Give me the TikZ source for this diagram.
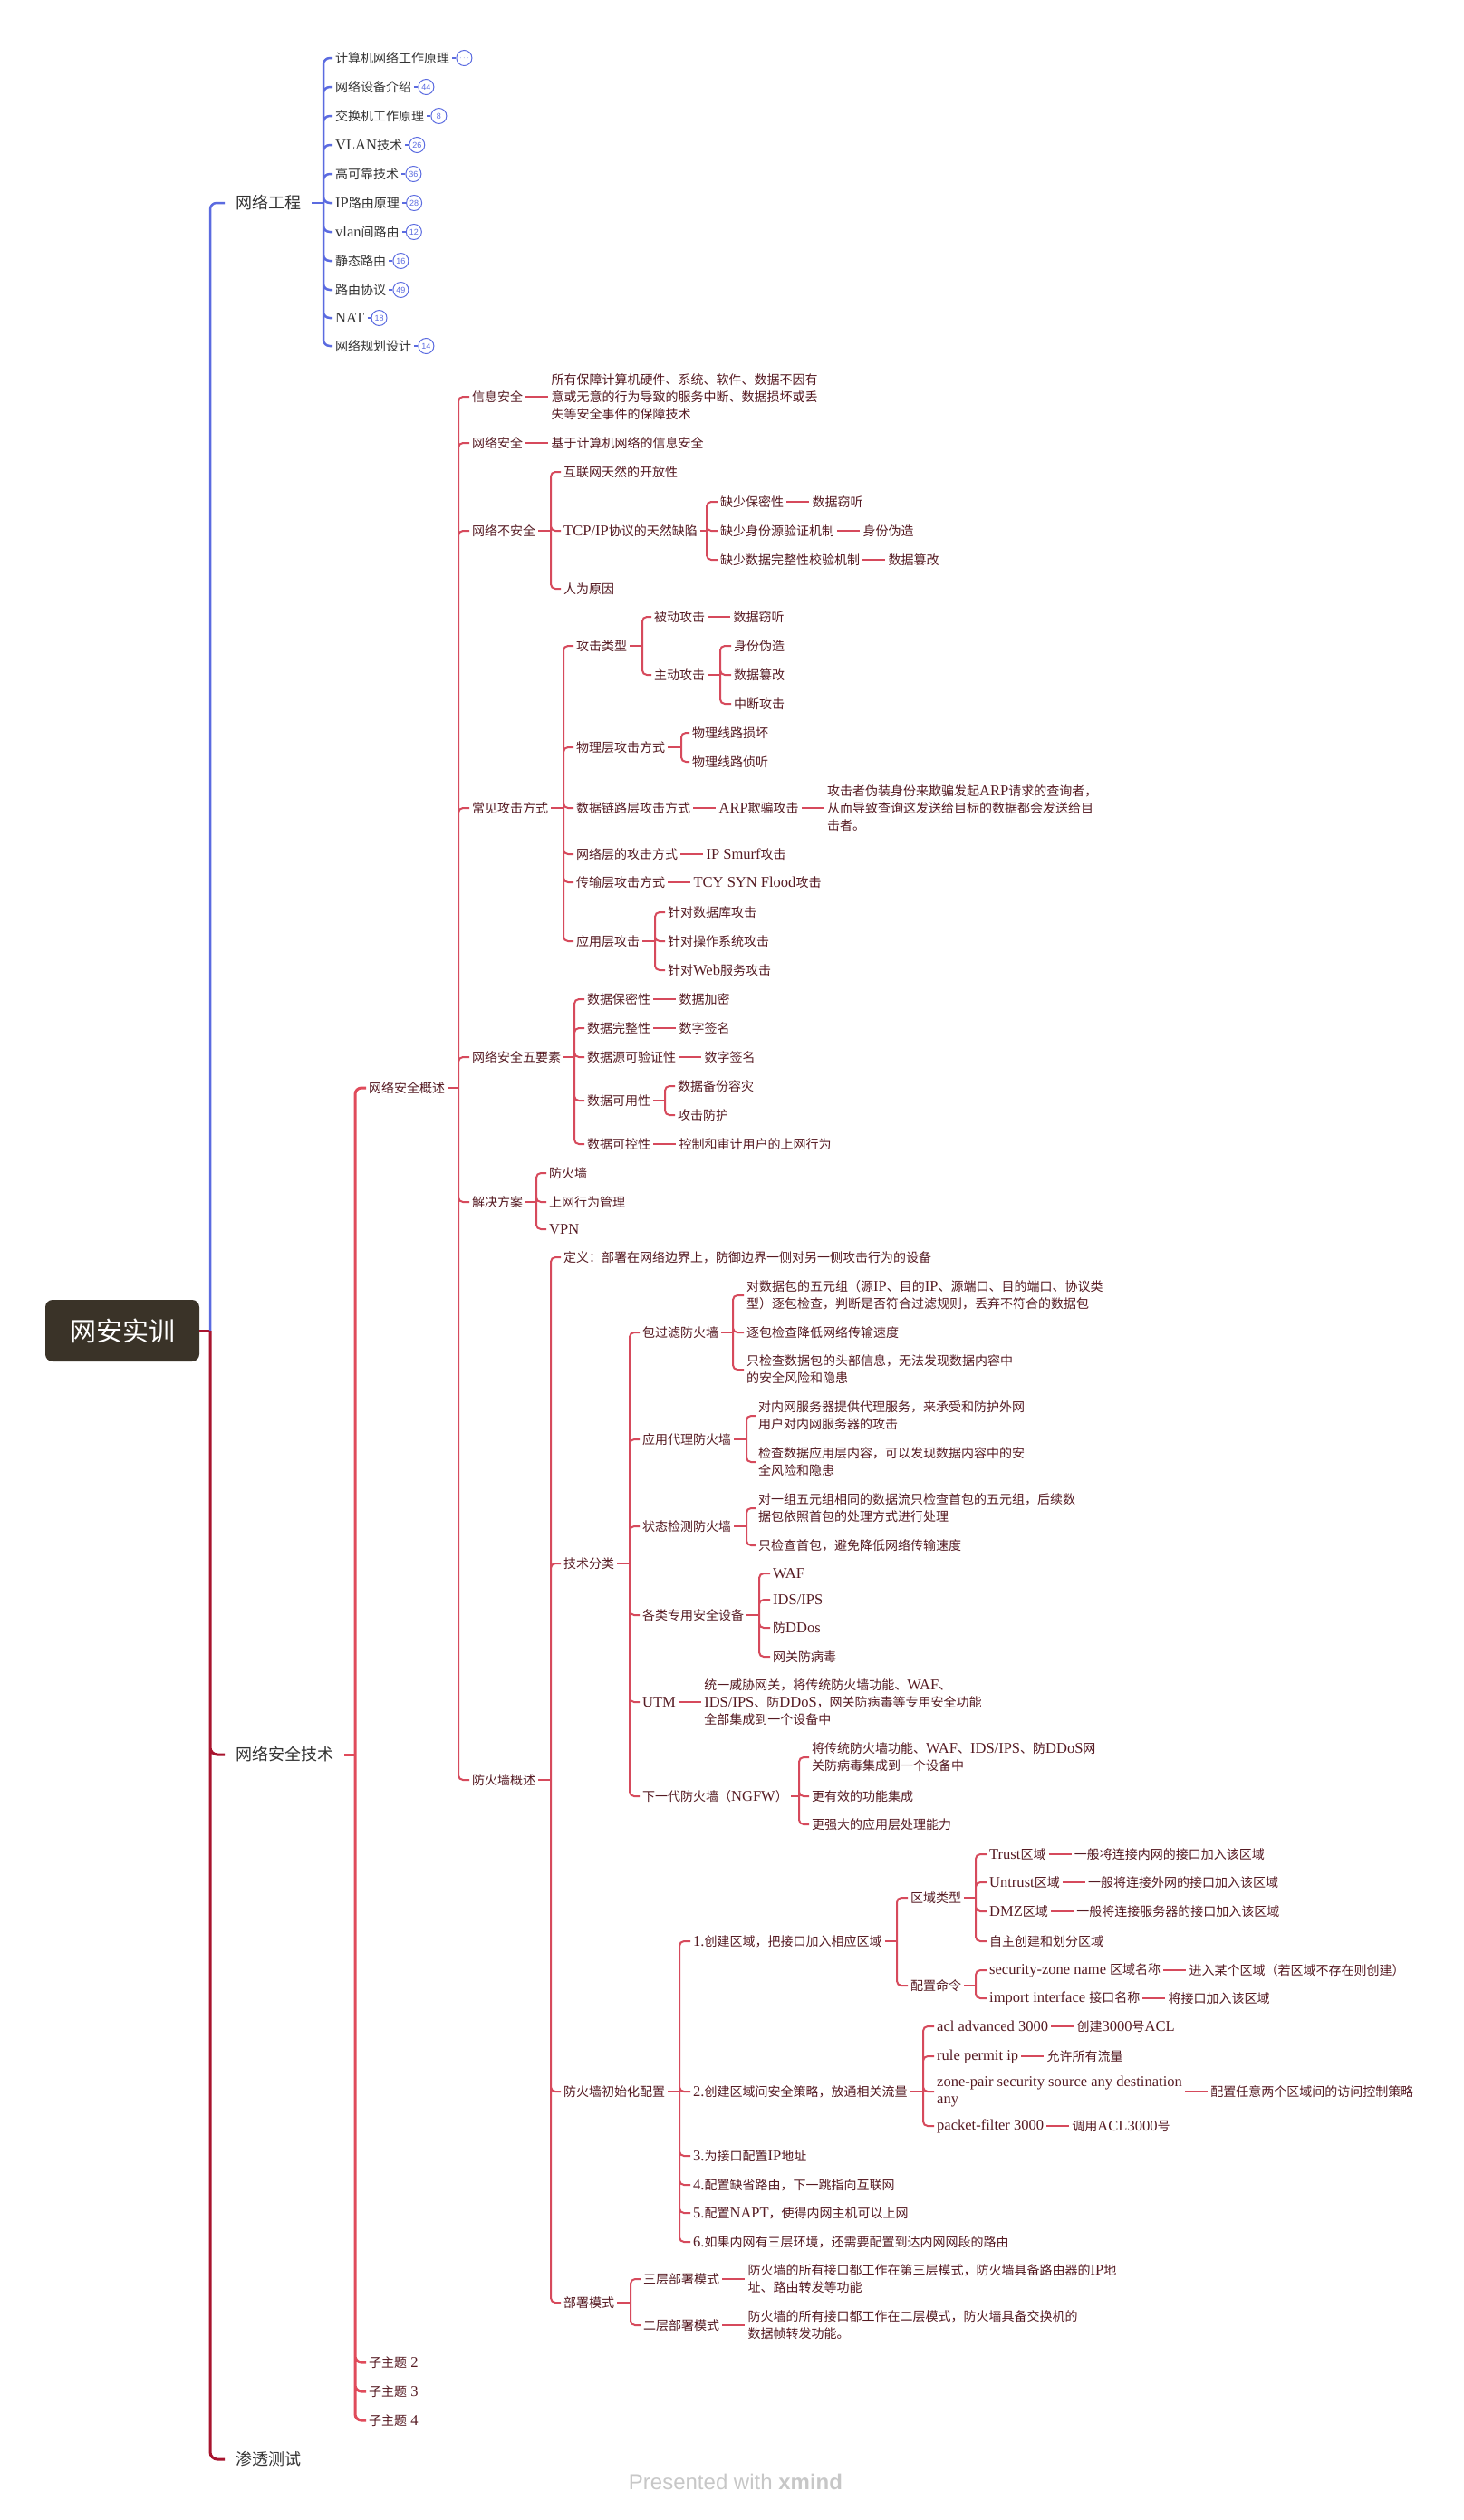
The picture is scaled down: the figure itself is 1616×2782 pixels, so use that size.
\documentclass[tikz,border=0pt]{standalone}
\usepackage{fontspec}
\usetikzlibrary{positioning}
\setmainfont{Liberation Serif}[Scale=1.18]
\newfontfamily\cjkfont{Noto Sans CJK SC}
\newfontfamily\wmfont{Liberation Sans}
\XeTeXinterchartokenstate=1
\chardef\cjkcls=7
\newcount\cjkcnt
\cjkcnt="2E80
\loop\ifnum\cjkcnt<"A000 \XeTeXcharclass\cjkcnt=\cjkcls \advance\cjkcnt by 1 \repeat
\cjkcnt="FF00
\loop\ifnum\cjkcnt<"FFF0 \XeTeXcharclass\cjkcnt=\cjkcls \advance\cjkcnt by 1 \repeat
\XeTeXinterchartoks 0 \cjkcls = {\begingroup\cjkfont}
\XeTeXinterchartoks 4095 \cjkcls = {\begingroup\cjkfont}
\XeTeXinterchartoks \cjkcls 0 = {\endgroup}
\XeTeXinterchartoks \cjkcls 4095 = {\endgroup}
\definecolor{bl}{HTML}{5B6BE0}
\definecolor{dr}{HTML}{A8142E}
\definecolor{r1}{HTML}{E04B5B}
\definecolor{r2}{HTML}{D64A5C}
\definecolor{mr}{HTML}{551A22}
\definecolor{gy}{HTML}{333333}
\definecolor{rootc}{HTML}{3A3328}
\begin{document}
\begin{tikzpicture}[x=1pt, y=-1pt,
  every node/.style={anchor=west, inner xsep=3pt, inner ysep=1pt},
  rootbox/.style={anchor=center, fill=rootc, text=white, rounded corners=8pt,
    minimum width=170pt, minimum height=68pt, font=\fontsize{29}{34}\selectfont},
  main/.style={text=gy, inner xsep=12pt, font=\fontsize{18}{22}\selectfont},
  gitem/.style={text=gy, font=\fontsize{14}{19}\selectfont},
  item/.style={text=mr, align=left, font=\fontsize{14}{19}\selectfont},
  cnt/.style={draw=bl, circle, line width=1pt, inner sep=0pt, minimum size=17pt,
    text=bl, font=\wmfont\fontsize{9}{9}\selectfont},
  kl/.style={draw=bl, line width=1.2pt},
  bline/.style={draw=bl, line width=2.5pt, rounded corners=7pt},
  tline/.style={draw=dr, line width=3pt, rounded corners=8pt},
  sline/.style={draw=r1, line width=3pt, rounded corners=7pt},
  lk/.style={draw=r2, line width=2pt, rounded corners=5pt}]
\useasboundingbox (0,0) rectangle (1616,2782);

\node[rootbox] (root) at (135,1469) {网安实训};
\node[main] (ne) at (248,224) {网络工程};
\node[main] (ns) at (248,1937) {网络安全技术};
\node[main] (pt) at (248,2715) {渗透测试};
\coordinate (rb) at (232,1469);
\draw[tline] (root.east) -- (rb);
\draw[bline] (rb) |- (ne.west);
\draw[tline] (rb) |- (ns.west) (rb) |- (pt.west);

\node[gitem] (n1) at (367,64) {计算机网络工作原理};
\node[gitem] (n2) at (367,96) {网络设备介绍};
\node[gitem] (n3) at (367,128) {交换机工作原理};
\node[gitem] (n4) at (367,160) {VLAN技术};
\node[gitem] (n5) at (367,192) {高可靠技术};
\node[gitem] (n6) at (367,224) {IP路由原理};
\node[gitem] (n7) at (367,256) {vlan间路由};
\node[gitem] (n8) at (367,288) {静态路由};
\node[gitem] (n9) at (367,320) {路由协议};
\node[gitem] (n10) at (367,351) {NAT};
\node[gitem] (n11) at (367,382) {网络规划设计};
\node[cnt, right=4pt of n1] (k1) {$\cdots$};
\node[cnt, right=4pt of n2] (k2) {44};
\node[cnt, right=4pt of n3] (k3) {8};
\node[cnt, right=4pt of n4] (k4) {26};
\node[cnt, right=4pt of n5] (k5) {36};
\node[cnt, right=4pt of n6] (k6) {28};
\node[cnt, right=4pt of n7] (k7) {12};
\node[cnt, right=4pt of n8] (k8) {16};
\node[cnt, right=4pt of n9] (k9) {49};
\node[cnt, right=4pt of n10] (k10) {18};
\node[cnt, right=4pt of n11] (k11) {14};
\coordinate (neb) at (357,224);
\draw[bline] (ne.east) -- (neb);
\draw[bline] (neb) |- (n1.west) (neb) |- (n2.west) (neb) |- (n3.west) (neb) |- (n4.west)
  (neb) |- (n5.west) (neb) |- (n6.west) (neb) |- (n7.west) (neb) |- (n8.west)
  (neb) |- (n9.west) (neb) |- (n10.west) (neb) |- (n11.west);
\draw[kl] (n1.east) -- (k1.west);
\draw[kl] (n2.east) -- (k2.west);
\draw[kl] (n3.east) -- (k3.west);
\draw[kl] (n4.east) -- (k4.west);
\draw[kl] (n5.east) -- (k5.west);
\draw[kl] (n6.east) -- (k6.west);
\draw[kl] (n7.east) -- (k7.west);
\draw[kl] (n8.east) -- (k8.west);
\draw[kl] (n9.east) -- (k9.west);
\draw[kl] (n10.east) -- (k10.west);
\draw[kl] (n11.east) -- (k11.west);

\node[item] (ov) at (404,1201) {网络安全概述};
\node[item] (s2) at (404,2608) {子主题 2};
\node[item] (s3) at (404,2640) {子主题 3};
\node[item] (s4) at (404,2672) {子主题 4};
\coordinate (nsb) at (392,1937);
\draw[sline] (ns.east) -- (nsb);
\draw[sline] (nsb) |- (ov.west) (nsb) |- (s2.west) (nsb) |- (s3.west) (nsb) |- (s4.west);

\node[item] (a1) at (518,438) {信息安全};
\node[item] (a2) at (518,489) {网络安全};
\node[item] (a3) at (518,586) {网络不安全};
\node[item] (a4) at (518,892) {常见攻击方式};
\node[item] (a5) at (518,1167) {网络安全五要素};
\node[item] (a6) at (518,1327) {解决方案};
\node[item] (a7) at (518,1965) {防火墙概述};
\coordinate (ovb) at (506,1201);
\draw[lk] (ov.east) -- (ovb);
\draw[lk] (ovb) |- (a1.west) (ovb) |- (a2.west) (ovb) |- (a3.west) (ovb) |- (a4.west)
  (ovb) |- (a5.west) (ovb) |- (a6.west) (ovb) |- (a7.west);

\node[item, right=25pt of a1] (a1d) {所有保障计算机硬件、系统、软件、数据不因有\\意或无意的行为导致的服务中断、数据损坏或丢\\失等安全事件的保障技术};
\node[item, right=25pt of a2] (a2d) {基于计算机网络的信息安全};
\draw[lk] (a1.east) -- (a1d.west);
\draw[lk] (a2.east) -- (a2d.west);

\node[item] (a31) at (619,521) {互联网天然的开放性};
\node[item] (a32) at (619,586) {TCP/IP协议的天然缺陷};
\node[item] (a33) at (619,650) {人为原因};
\coordinate (a3b) at (608,586);
\draw[lk] (a3.east) -- (a3b);
\draw[lk] (a3b) |- (a31.west) (a3b) |- (a32.west) (a3b) |- (a33.west);
\node[item] (q1) at (792,554) {缺少保密性};
\node[item] (q2) at (792,586) {缺少身份源验证机制};
\node[item] (q3) at (792,618) {缺少数据完整性校验机制};
\node[item, right=25pt of q1] (q1d) {数据窃听};
\node[item, right=25pt of q2] (q2d) {身份伪造};
\node[item, right=25pt of q3] (q3d) {数据篡改};
\coordinate (a32b) at (780,586);
\draw[lk] (a32.east) -- (a32b);
\draw[lk] (a32b) |- (q1.west) (a32b) |- (q2.west) (a32b) |- (q3.west);
\draw[lk] (q1.east) -- (q1d.west);
\draw[lk] (q2.east) -- (q2d.west);
\draw[lk] (q3.east) -- (q3d.west);

\node[item] (b1) at (633,713) {攻击类型};
\node[item] (b2) at (633,825) {物理层攻击方式};
\node[item] (b3) at (633,892) {数据链路层攻击方式};
\node[item] (b4) at (633,943) {网络层的攻击方式};
\node[item] (b5) at (633,974) {传输层攻击方式};
\node[item] (b6) at (633,1039) {应用层攻击};
\coordinate (a4b) at (622,892);
\draw[lk] (a4.east) -- (a4b);
\draw[lk] (a4b) |- (b1.west) (a4b) |- (b2.west) (a4b) |- (b3.west) (a4b) |- (b4.west)
  (a4b) |- (b5.west) (a4b) |- (b6.west);
\node[item] (b11) at (719,681) {被动攻击};
\node[item] (b12) at (719,745) {主动攻击};
\node[item, right=25pt of b11] (b11d) {数据窃听};
\coordinate (b1b) at (709,713);
\draw[lk] (b1.east) -- (b1b);
\draw[lk] (b1b) |- (b11.west) (b1b) |- (b12.west);
\draw[lk] (b11.east) -- (b11d.west);
\node[item] (b121) at (807,713) {身份伪造};
\node[item] (b122) at (807,745) {数据篡改};
\node[item] (b123) at (807,777) {中断攻击};
\coordinate (b12b) at (795,745);
\draw[lk] (b12.east) -- (b12b);
\draw[lk] (b12b) |- (b121.west) (b12b) |- (b122.west) (b12b) |- (b123.west);
\node[item] (b21) at (761,809) {物理线路损坏};
\node[item] (b22) at (761,841) {物理线路侦听};
\coordinate (b2b) at (752,825);
\draw[lk] (b2.east) -- (b2b);
\draw[lk] (b2b) |- (b21.west) (b2b) |- (b22.west);
\node[item, right=25pt of b3] (b3a) {ARP欺骗攻击};
\node[item, right=25pt of b3a] (b3d) {攻击者伪装身份来欺骗发起ARP请求的查询者，\\从而导致查询这发送给目标的数据都会发送给目\\击者。};
\node[item, right=25pt of b4] (b4d) {IP Smurf攻击};
\node[item, right=25pt of b5] (b5d) {TCY SYN Flood攻击};
\draw[lk] (b3.east) -- (b3a.west);
\draw[lk] (b3a.east) -- (b3d.west);
\draw[lk] (b4.east) -- (b4d.west);
\draw[lk] (b5.east) -- (b5d.west);
\node[item] (b61) at (734,1007) {针对数据库攻击};
\node[item] (b62) at (734,1039) {针对操作系统攻击};
\node[item] (b63) at (734,1071) {针对Web服务攻击};
\coordinate (b6b) at (723,1039);
\draw[lk] (b6.east) -- (b6b);
\draw[lk] (b6b) |- (b61.west) (b6b) |- (b62.west) (b6b) |- (b63.west);

\node[item] (p1) at (645,1103) {数据保密性};
\node[item] (p2) at (645,1135) {数据完整性};
\node[item] (p3) at (645,1167) {数据源可验证性};
\node[item] (p4) at (645,1215) {数据可用性};
\node[item] (p5) at (645,1263) {数据可控性};
\coordinate (a5b) at (634,1167);
\draw[lk] (a5.east) -- (a5b);
\draw[lk] (a5b) |- (p1.west) (a5b) |- (p2.west) (a5b) |- (p3.west) (a5b) |- (p4.west)
  (a5b) |- (p5.west);
\node[item, right=25pt of p1] (p1d) {数据加密};
\node[item, right=25pt of p2] (p2d) {数字签名};
\node[item, right=25pt of p3] (p3d) {数字签名};
\node[item, right=25pt of p5] (p5d) {控制和审计用户的上网行为};
\draw[lk] (p1.east) -- (p1d.west);
\draw[lk] (p2.east) -- (p2d.west);
\draw[lk] (p3.east) -- (p3d.west);
\draw[lk] (p5.east) -- (p5d.west);
\node[item] (p41) at (745,1199) {数据备份容灾};
\node[item] (p42) at (745,1231) {攻击防护};
\coordinate (p4b) at (734,1215);
\draw[lk] (p4.east) -- (p4b);
\draw[lk] (p4b) |- (p41.west) (p4b) |- (p42.west);

\node[item] (v1) at (603,1295) {防火墙};
\node[item] (v2) at (603,1327) {上网行为管理};
\node[item] (v3) at (603,1357) {VPN};
\coordinate (a6b) at (592,1327);
\draw[lk] (a6.east) -- (a6b);
\draw[lk] (a6b) |- (v1.west) (a6b) |- (v2.west) (a6b) |- (v3.west);

\node[item] (w1) at (619,1388) {定义：部署在网络边界上，防御边界一侧对另一侧攻击行为的设备};
\node[item] (w2) at (619,1726) {技术分类};
\node[item] (w3) at (619,2309) {防火墙初始化配置};
\node[item] (w4) at (619,2542) {部署模式};
\coordinate (a7b) at (608,1965);
\draw[lk] (a7.east) -- (a7b);
\draw[lk] (a7b) |- (w1.west) (a7b) |- (w2.west) (a7b) |- (w3.west) (a7b) |- (w4.west);

\node[item] (t1) at (706,1471) {包过滤防火墙};
\node[item] (t2) at (706,1589) {应用代理防火墙};
\node[item] (t3) at (706,1685) {状态检测防火墙};
\node[item] (t4) at (706,1783) {各类专用安全设备};
\node[item] (t5) at (706,1879) {UTM};
\node[item] (t6) at (706,1983) {下一代防火墙（NGFW）};
\coordinate (w2b) at (695,1726);
\draw[lk] (w2.east) -- (w2b);
\draw[lk] (w2b) |- (t1.west) (w2b) |- (t2.west) (w2b) |- (t3.west) (w2b) |- (t4.west)
  (w2b) |- (t5.west) (w2b) |- (t6.west);
\node[item] (t11) at (821,1430) {对数据包的五元组（源IP、目的IP、源端口、目的端口、协议类\\型）逐包检查，判断是否符合过滤规则，丢弃不符合的数据包};
\node[item] (t12) at (821,1471) {逐包检查降低网络传输速度};
\node[item] (t13) at (821,1512) {只检查数据包的头部信息，无法发现数据内容中\\的安全风险和隐患};
\coordinate (t1b) at (809,1471);
\draw[lk] (t1.east) -- (t1b);
\draw[lk] (t1b) |- (t11.west) (t1b) |- (t12.west) (t1b) |- (t13.west);
\node[item] (t21) at (834,1563) {对内网服务器提供代理服务，来承受和防护外网\\用户对内网服务器的攻击};
\node[item] (t22) at (834,1614) {检查数据应用层内容，可以发现数据内容中的安\\全风险和隐患};
\coordinate (t2b) at (824,1589);
\draw[lk] (t2.east) -- (t2b);
\draw[lk] (t2b) |- (t21.west) (t2b) |- (t22.west);
\node[item] (t31) at (834,1665) {对一组五元组相同的数据流只检查首包的五元组，后续数\\据包依照首包的处理方式进行处理};
\node[item] (t32) at (834,1706) {只检查首包，避免降低网络传输速度};
\coordinate (t3b) at (824,1685);
\draw[lk] (t3.east) -- (t3b);
\draw[lk] (t3b) |- (t31.west) (t3b) |- (t32.west);
\node[item] (t41) at (850,1737) {WAF};
\node[item] (t42) at (850,1766) {IDS/IPS};
\node[item] (t43) at (850,1797) {防DDos};
\node[item] (t44) at (850,1829) {网关防病毒};
\coordinate (t4b) at (838,1783);
\draw[lk] (t4.east) -- (t4b);
\draw[lk] (t4b) |- (t41.west) (t4b) |- (t42.west) (t4b) |- (t43.west) (t4b) |- (t44.west);
\node[item, right=25pt of t5] (t5d) {统一威胁网关，将传统防火墙功能、WAF、\\IDS/IPS、防DDoS，网关防病毒等专用安全功能\\全部集成到一个设备中};
\draw[lk] (t5.east) -- (t5d.west);
\node[item] (t61) at (893,1940) {将传统防火墙功能、WAF、IDS/IPS、防DDoS网\\关防病毒集成到一个设备中};
\node[item] (t62) at (893,1983) {更有效的功能集成};
\node[item] (t63) at (893,2014) {更强大的应用层处理能力};
\coordinate (t6b) at (882,1983);
\draw[lk] (t6.east) -- (t6b);
\draw[lk] (t6b) |- (t61.west) (t6b) |- (t62.west) (t6b) |- (t63.west);

\node[item] (i1) at (762,2143) {1.创建区域，把接口加入相应区域};
\node[item] (i2) at (762,2309) {2.创建区域间安全策略，放通相关流量};
\node[item] (i3) at (762,2380) {3.为接口配置IP地址};
\node[item] (i4) at (762,2412) {4.配置缺省路由，下一跳指向互联网};
\node[item] (i5) at (762,2443) {5.配置NAPT，使得内网主机可以上网};
\node[item] (i6) at (762,2475) {6.如果内网有三层环境，还需要配置到达内网网段的路由};
\coordinate (w3b) at (750,2309);
\draw[lk] (w3.east) -- (w3b);
\draw[lk] (w3b) |- (i1.west) (w3b) |- (i2.west) (w3b) |- (i3.west) (w3b) |- (i4.west)
  (w3b) |- (i5.west) (w3b) |- (i6.west);
\node[item] (z1) at (1002,2095) {区域类型};
\node[item] (z2) at (1002,2192) {配置命令};
\coordinate (i1b) at (990,2143);
\draw[lk] (i1.east) -- (i1b);
\draw[lk] (i1b) |- (z1.west) (i1b) |- (z2.west);
\node[item] (z11) at (1089,2047) {Trust区域};
\node[item] (z12) at (1089,2078) {Untrust区域};
\node[item] (z13) at (1089,2110) {DMZ区域};
\node[item] (z14) at (1089,2143) {自主创建和划分区域};
\coordinate (z1b) at (1077,2095);
\draw[lk] (z1.east) -- (z1b);
\draw[lk] (z1b) |- (z11.west) (z1b) |- (z12.west) (z1b) |- (z13.west) (z1b) |- (z14.west);
\node[item, right=25pt of z11] (z11d) {一般将连接内网的接口加入该区域};
\node[item, right=25pt of z12] (z12d) {一般将连接外网的接口加入该区域};
\node[item, right=25pt of z13] (z13d) {一般将连接服务器的接口加入该区域};
\draw[lk] (z11.east) -- (z11d.west);
\draw[lk] (z12.east) -- (z12d.west);
\draw[lk] (z13.east) -- (z13d.west);
\node[item] (z21) at (1089,2175) {security-zone name 区域名称};
\node[item] (z22) at (1089,2206) {import interface 接口名称};
\coordinate (z2b) at (1077,2192);
\draw[lk] (z2.east) -- (z2b);
\draw[lk] (z2b) |- (z21.west) (z2b) |- (z22.west);
\node[item, right=25pt of z21] (z21d) {进入某个区域（若区域不存在则创建）};
\node[item, right=25pt of z22] (z22d) {将接口加入该区域};
\draw[lk] (z21.east) -- (z21d.west);
\draw[lk] (z22.east) -- (z22d.west);
\node[item] (h1) at (1031,2237) {acl advanced 3000};
\node[item] (h2) at (1031,2270) {rule permit ip};
\node[item] (h3) at (1031,2309) {zone-pair security source any destination\\any};
\node[item] (h4) at (1031,2347) {packet-filter 3000};
\coordinate (i2b) at (1019,2309);
\draw[lk] (i2.east) -- (i2b);
\draw[lk] (i2b) |- (h1.west) (i2b) |- (h2.west) (i2b) |- (h3.west) (i2b) |- (h4.west);
\node[item, right=25pt of h1] (h1d) {创建3000号ACL};
\node[item, right=25pt of h2] (h2d) {允许所有流量};
\node[item, right=25pt of h3] (h3d) {配置任意两个区域间的访问控制策略};
\node[item, right=25pt of h4] (h4d) {调用ACL3000号};
\draw[lk] (h1.east) -- (h1d.west);
\draw[lk] (h2.east) -- (h2d.west);
\draw[lk] (h3.east) -- (h3d.west);
\draw[lk] (h4.east) -- (h4d.west);

\node[item] (m1) at (707,2516) {三层部署模式};
\node[item] (m2) at (707,2567) {二层部署模式};
\coordinate (w4b) at (696,2542);
\draw[lk] (w4.east) -- (w4b);
\draw[lk] (w4b) |- (m1.west) (w4b) |- (m2.west);
\node[item, right=25pt of m1] (m1d) {防火墙的所有接口都工作在第三层模式，防火墙具备路由器的IP地\\址、路由转发等功能};
\node[item, right=25pt of m2] (m2d) {防火墙的所有接口都工作在二层模式，防火墙具备交换机的\\数据帧转发功能。};
\draw[lk] (m1.east) -- (m1d.west);
\draw[lk] (m2.east) -- (m2d.west);

\node[anchor=center, text=black!22, font=\wmfont\fontsize{24}{28}\selectfont] (wm) at (812,2740) {Presented with \textbf{xmind}};
\end{tikzpicture}
\end{document}
